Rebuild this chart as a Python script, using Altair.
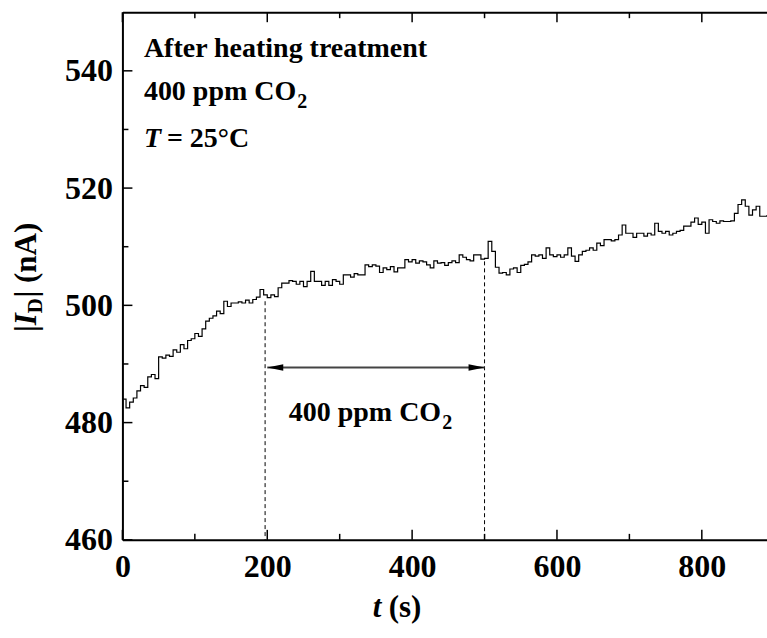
import altair as alt
import pandas as pd

# ---------------- data ----------------
t_values = list(range(0, 891, 5))
I_values = [
    484.0, 482.5, 483.5, 484.2, 485.4, 486.3, 486.0, 487.8, 488.2, 487.5,
    491.2, 491.0, 491.5, 491.3, 492.4, 492.0, 493.3, 492.6, 494.0, 494.3,
    495.2, 494.7, 496.0, 497.3, 497.8, 498.2, 499.0, 498.6, 500.7, 499.8,
    500.4, 500.4, 500.6, 500.4, 500.9, 500.4, 501.0, 501.4, 502.7, 501.8,
    501.3, 501.8, 501.5, 503.0, 503.8, 503.8, 504.2, 504.1, 503.6, 504.1,
    503.2, 504.1, 505.8, 504.1, 504.1, 503.4, 504.1, 503.4, 504.4, 504.1,
    503.6, 505.2, 505.2, 504.8, 505.4, 505.2, 505.2, 506.9, 506.6, 506.9,
    506.7, 505.6, 506.4, 506.1, 506.6, 505.7, 506.4, 506.4, 507.8, 507.4,
    507.8, 507.2, 507.6, 507.4, 506.9, 506.4, 507.6, 507.2, 507.3, 506.8,
    507.3, 507.6, 507.3, 508.6, 508.2, 507.8, 507.6, 508.6, 508.6, 507.9,
    508.0, 510.9, 509.2, 506.5, 505.5, 505.6, 505.2, 506.2, 506.4, 505.6,
    506.8, 507.0, 507.4, 508.6, 508.4, 508.6, 508.0, 509.8, 508.6, 508.3,
    508.6, 508.2, 508.6, 509.8, 508.4, 507.5, 508.6, 509.2, 509.4, 509.8,
    509.4, 510.6, 510.2, 511.2, 511.2, 511.0, 511.2, 512.0, 513.7, 512.3,
    512.3, 511.6, 512.3, 512.3, 511.8, 512.3, 512.0, 514.0, 512.6, 512.3,
    512.6, 512.0, 512.3, 512.6, 512.8, 513.5, 513.5, 514.2, 514.9, 513.8,
    514.2, 512.3, 514.6, 514.3, 514.0, 514.4, 514.3, 514.3, 514.4, 515.7,
    517.2, 518.0, 516.9, 515.4, 516.3, 516.9, 515.2, 515.2, 515.4,
]

x_major = [0, 200, 400, 600, 800]
x_minor = [100, 300, 500, 700]
y_major = [460, 480, 500, 520, 540]
y_minor = [470, 490, 510, 530]

marker_t = [197, 500]          # dashed vertical markers (s)
marker_I = [500.7, 507.5]      # where they start on the curve (nA)
arrow_t = [200, 500]
arrow_I = [489.4, 489.4]

X_DOMAIN = [0, 890]
Y_DOMAIN = [460, 550]
W, H = 645, 528
FONT = "Liberation Serif"

xs = alt.Scale(domain=X_DOMAIN, nice=False, zero=False)
ys = alt.Scale(domain=Y_DOMAIN, nice=False, zero=False)

df = pd.DataFrame({"t": t_values, "I": I_values})

bottom_axis = alt.Axis(
    values=x_major, format="d", ticks=False, grid=False, title=None,
    domainColor="black", domainWidth=2, labelFont=FONT, labelFontWeight="bold",
    labelFontSize=32, labelColor="black", labelPadding=12, labelFlush=False,
)
left_axis = alt.Axis(
    values=y_major, format="d", ticks=False, grid=False, title=None,
    domainColor="black", domainWidth=2, labelFont=FONT, labelFontWeight="bold",
    labelFontSize=32, labelColor="black", labelPadding=10,
)

line = alt.Chart(df).mark_line(
    color="black", strokeWidth=1.2, interpolate="step-after", clip=True
).encode(
    x=alt.X("t:Q", scale=xs, axis=bottom_axis),
    y=alt.Y("I:Q", scale=ys, axis=left_axis),
)

# top spine (axis without labels)
top_spine = alt.Chart(pd.DataFrame({"t": x_major})).mark_rule(opacity=0).encode(
    x=alt.X("t:Q", scale=xs, axis=alt.Axis(orient="top", labels=False, ticks=False,
                                           grid=False, title=None, domainColor="black",
                                           domainWidth=2)),
    y=alt.value(0),
    y2=alt.value(1),
)

def xtick_rules(vals, length, top):
    d = pd.DataFrame({"t": vals})
    if top:
        yy, yy2 = alt.value(0), alt.value(length)
    else:
        yy, yy2 = alt.value(H), alt.value(H - length)
    return alt.Chart(d).mark_rule(color="black", strokeWidth=1.5).encode(
        x=alt.X("t:Q", scale=xs, axis=None), y=yy, y2=yy2)

def ytick_rules(vals, length):
    d = pd.DataFrame({"I": vals})
    return alt.Chart(d).mark_rule(color="black", strokeWidth=1.5).encode(
        y=alt.Y("I:Q", scale=ys, axis=None), x=alt.value(0), x2=alt.value(length))

markers = alt.Chart(pd.DataFrame({"t": marker_t, "I": marker_I, "base": [460, 460]})).mark_rule(
    color="black", strokeWidth=1, strokeDash=[4, 3]
).encode(
    x=alt.X("t:Q", scale=xs, axis=None),
    y=alt.Y("I:Q", scale=ys, axis=None),
    y2="base:Q",
)

arrow_df = pd.DataFrame({"t": [arrow_t[0]], "t2": [arrow_t[1]], "I": [arrow_I[0]]})
arrow_line = alt.Chart(arrow_df).mark_rule(color="#444444", strokeWidth=2).encode(
    x=alt.X("t:Q", scale=xs, axis=None), x2="t2:Q",
    y=alt.Y("I:Q", scale=ys, axis=None),
)
head_l = alt.Chart(pd.DataFrame({"t": [arrow_t[0]], "I": [arrow_I[0]]})).mark_point(
    shape="M0,0 L2,-0.42 L2,0.42 Z", size=256, filled=True, color="black", opacity=1
).encode(x=alt.X("t:Q", scale=xs, axis=None), y=alt.Y("I:Q", scale=ys, axis=None))
head_r = alt.Chart(pd.DataFrame({"t": [arrow_t[1]], "I": [arrow_I[1]]})).mark_point(
    shape="M0,0 L-2,-0.42 L-2,0.42 Z", size=256, filled=True, color="black", opacity=1
).encode(x=alt.X("t:Q", scale=xs, axis=None), y=alt.Y("I:Q", scale=ys, axis=None))


def txt(s, x, y, size, italic=False, angle=0, align="left"):
    return alt.Chart(pd.DataFrame({"s": [s]})).mark_text(
        font=FONT, fontWeight="bold", fontStyle="italic" if italic else "normal",
        fontSize=size, align=align, baseline="alphabetic", angle=angle, color="black",
    ).encode(x=alt.value(x), y=alt.value(y), text="s:N")

A = 28   # annotation font size
texts = [
    txt("After heating treatment", 21.5, 45, A),
    txt("400 ppm CO", 21.5, 88, A),
    txt("2", 21.5 + 5.445 * A + 1, 96, 20),
    txt("T", 21.5, 135, A, italic=True),
    txt("= 25°C", 44.5, 135, A),
    txt("400 ppm CO", 166.5, 409, A),
    txt("2", 166.5 + 5.445 * A + 1, 417, 20),
    # x-axis title
    txt("t", 250.5, 605, 31, italic=True),
    txt("(s)", 266.4, 605, 31),
    # y-axis title (rotated)
    txt("|", -86.5, 320, 31, angle=270),
    txt("I", -86.5, 313.2, 31, italic=True, angle=270),
    txt("D", -80.5, 301.2, 21, angle=270),
    txt("| (nA)", -86.5, 285.5, 31, angle=270),
]

chart = alt.layer(
    line, top_spine,
    xtick_rules(x_major, 10, False), xtick_rules(x_minor, 6, False),
    xtick_rules(x_major, 10, True), xtick_rules(x_minor, 6, True),
    ytick_rules(y_major, 10), ytick_rules(y_minor, 6),
    markers, arrow_line, head_l, head_r, *texts,
).resolve_axis(x="independent", y="independent").properties(
    width=W, height=H,
    autosize=alt.AutoSizeParams(type="none"),
    padding={"left": 122.5, "top": 12, "right": 0, "bottom": 96},
).configure_view(stroke=None)

chart.save("out.html", embed_options={"renderer": "svg", "actions": False})
